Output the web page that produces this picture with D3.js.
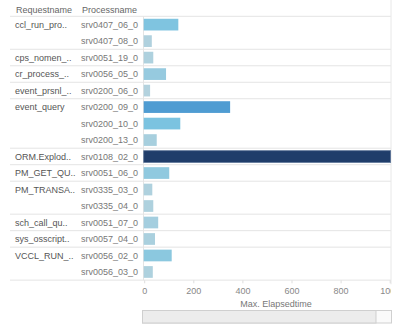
<!DOCTYPE html>
<html>
<head>
<meta charset="utf-8">
<script src="https://cdn.jsdelivr.net/npm/d3@7"></script>
<style>
body { margin:0; background:#fff; }
text { font-family: "Liberation Sans", Arial, sans-serif; }
</style>
</head>
<body>
<svg id="chart"></svg>
<script>
// one entry per row, "" where the row continues the group above
var requestNames = ["ccl_run_pro..", "", "cps_nomen_..", "cr_process_..", "event_prsnl_..",
    "event_query", "", "", "ORM.Explod..", "PM_GET_QU..", "PM_TRANSA..", "",
    "sch_call_qu..", "sys_osscript..", "VCCL_RUN_..", ""];
var processNames = ["srv0407_06_0", "srv0407_08_0", "srv0051_19_0", "srv0056_05_0", "srv0200_06_0",
    "srv0200_09_0", "srv0200_10_0", "srv0200_13_0", "srv0108_02_0", "srv0051_06_0", "srv0335_03_0",
    "srv0335_04_0", "srv0051_07_0", "srv0057_04_0", "srv0056_02_0", "srv0056_03_0"];
var elapsed = [139, 31, 37, 89, 24, 350, 147, 51, 1004, 102, 33, 37, 57, 44, 112, 35];
var xTicks = [0, 200, 400, 600, 800, 1000];

var screen = {width:394, height:327};
var pane = {left:144.2, right:391, top:16.3, bottom:280.3};

var svg = d3.select("#chart")
    .attr("width", screen.width)
    .attr("height", screen.height);

var rows = d3.range(processNames.length);

var yScale = d3.scaleBand()
    .domain(rows)
    .range([pane.top, pane.bottom])
    .paddingInner(0.29)
    .paddingOuter(0.15);

var step = yScale.step();
var rowTop = function(i) { return pane.top + i * step; };

var xScale = d3.scaleLinear()
    .domain([0, 1000])
    .range([pane.left, 389.7]);

var color = d3.scaleLinear()
    .domain([25, 150, 350, 1004])
    .range(["#b3d2de", "#7ac3e0", "#4f9cd2", "#1f3d6a"]);

svg.append("defs").append("clipPath")
    .attr("id", "paneClip")
    .append("rect")
    .attr("x", 0).attr("y", 0)
    .attr("width", pane.right).attr("height", screen.height);

// header
var header = svg.append("g").classed("header", true);
header.append("text")
    .text("Requestname")
    .attr("x", 16).attr("y", 13)
    .attr("font-size", 9).attr("fill", "#666");
header.append("text")
    .text("Processname")
    .attr("x", 82).attr("y", 13)
    .attr("font-size", 9).attr("fill", "#666");

// separators: header line + end of every request group
var seps = [0];
rows.forEach(function(i) {
    if (i == rows.length - 1 || requestNames[i + 1] != "") { seps.push(i + 1); }
});
svg.append("g")
    .selectAll("line")
    .data(seps)
    .enter()
    .append("line")
    .attr("x1", 10).attr("x2", pane.right)
    .attr("y1", function(i) { return rowTop(i); })
    .attr("y2", function(i) { return rowTop(i); })
    .attr("stroke", "#e4e4e4")
    .attr("stroke-width", 1);

// zero line and right border
svg.append("line")
    .attr("x1", xScale(0) - 0.7).attr("x2", xScale(0) - 0.7)
    .attr("y1", pane.top).attr("y2", pane.bottom)
    .attr("stroke", "#e4e4e4");
svg.append("line")
    .attr("x1", pane.right).attr("x2", pane.right)
    .attr("y1", 0).attr("y2", pane.bottom + 4)
    .attr("stroke", "#e8e8e8");

// row labels
var labels = svg.append("g").classed("labels", true);
labels.selectAll("text.req")
    .data(rows)
    .enter()
    .append("text")
    .classed("req", true)
    .text(function(i) { return requestNames[i]; })
    .attr("x", 15)
    .attr("y", function(i) { return rowTop(i) + step / 2 + 3.2; })
    .attr("font-size", 9)
    .attr("fill", "#555");
labels.selectAll("text.proc")
    .data(rows)
    .enter()
    .append("text")
    .classed("proc", true)
    .text(function(i) { return processNames[i]; })
    .attr("x", 81)
    .attr("y", function(i) { return rowTop(i) + step / 2 + 3.2; })
    .attr("font-size", 9)
    .attr("fill", "#777");

// bars
svg.append("g")
    .attr("clip-path", "url(#paneClip)")
    .selectAll("rect")
    .data(rows)
    .enter()
    .append("rect")
    .attr("x", xScale(0) - 0.5)
    .attr("y", function(i) { return yScale(i); })
    .attr("width", function(i) { return xScale(elapsed[i]) - xScale(0) + 0.5; })
    .attr("height", yScale.bandwidth())
    .attr("fill", function(i) { return color(elapsed[i]); })
    .attr("stroke", function(i) { return elapsed[i] > 900 ? "#5b7397" : "none"; })
    .attr("stroke-width", 0.8);

// x axis
var xAxis = d3.axisBottom(xScale)
    .tickValues(xTicks)
    .tickSize(3)
    .tickPadding(4)
    .tickFormat(d3.format("d"));

var axis = svg.append("g")
    .attr("clip-path", "url(#paneClip)")
    .append("g")
    .attr("transform", "translate(0," + pane.bottom + ")")
    .call(xAxis);
axis.select(".domain").remove();
axis.selectAll(".tick line").attr("stroke", "#ddd");
axis.selectAll(".tick text")
    .attr("fill", "#888")
    .attr("font-size", 9)
    .attr("font-family", "Liberation Sans, Arial, sans-serif");

svg.append("text")
    .text("Max. Elapsedtime")
    .attr("text-anchor", "middle")
    .attr("x", 276)
    .attr("y", 307)
    .attr("font-size", 9)
    .attr("fill", "#777");

// scrollbar
var scroll = svg.append("g").classed("scroll", true);
scroll.append("rect")
    .attr("x", 142.5).attr("y", 310.5)
    .attr("width", 249).attr("height", 12.5)
    .attr("fill", "#fafafa").attr("stroke", "#d0d0d0");
scroll.append("rect")
    .attr("x", 142.5).attr("y", 310.5)
    .attr("width", 233.5).attr("height", 12.5)
    .attr("fill", "#ececec").attr("stroke", "#cfcfcf");
</script>
</body>
</html>
